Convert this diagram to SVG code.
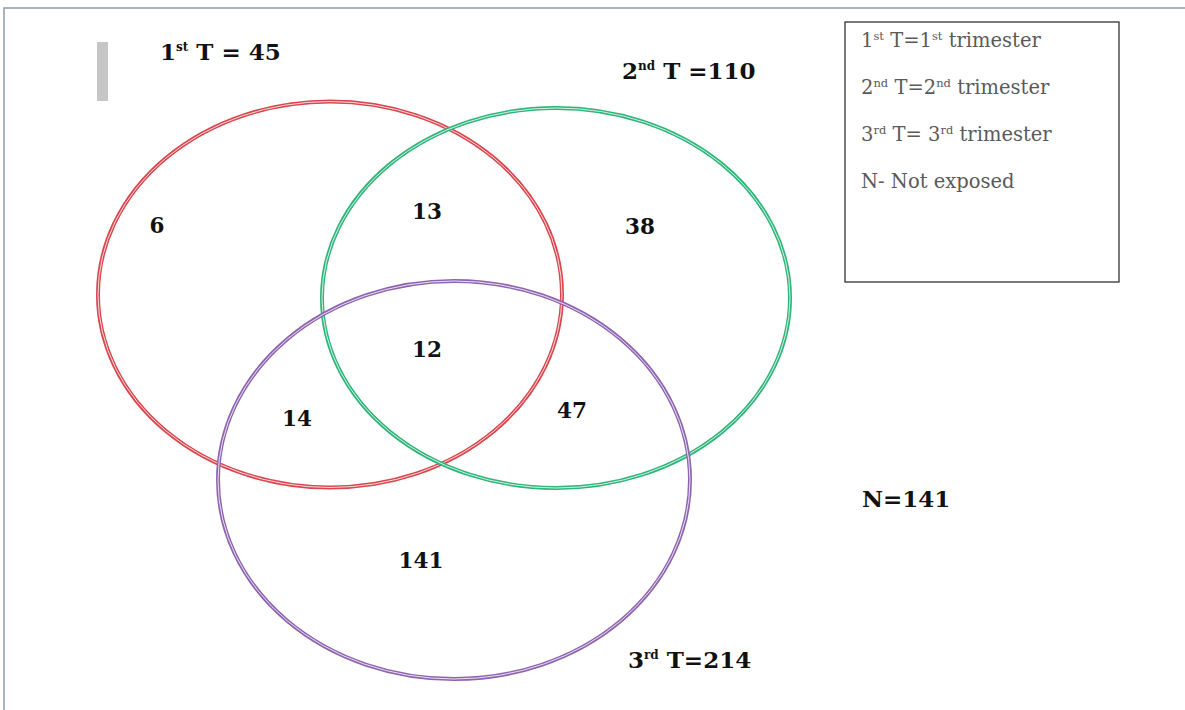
<svg xmlns="http://www.w3.org/2000/svg" width="1185" height="710" viewBox="0 0 1185 710">
<style>
.lbl{font-family:"DejaVu Serif","Liberation Serif",serif;font-weight:bold;font-size:23px;fill:#111}
.num{font-family:"DejaVu Serif","Liberation Serif",serif;font-weight:bold;font-size:21.5px;fill:#111;text-anchor:middle}
.leg{font-family:"DejaVu Serif","Liberation Serif",serif;font-size:19.5px;fill:#5a5a5a}
.sup{font-size:12px}
.lsup{font-size:11.5px}
.inner{fill:none;stroke:#fff;stroke-width:1;opacity:0.8}
</style>
<rect x="4" y="8" width="1190" height="710" fill="#fff" stroke="#8f9cab" stroke-width="1.5"/>
<rect x="97" y="42" width="11" height="59" fill="#c6c6c6"/>
<g id="connectors"></g>
<g id="set1">
<ellipse cx="330" cy="294.5" rx="232" ry="193" fill="none" stroke="#d9474f" stroke-width="4"/>
<ellipse class="inner" cx="330" cy="294.5" rx="232" ry="193"/>
</g>
<g id="set2">
<ellipse cx="556" cy="298" rx="234" ry="190" fill="none" stroke="#2fb57a" stroke-width="4"/>
<ellipse class="inner" cx="556" cy="298" rx="234" ry="190"/>
</g>
<g id="set3">
<ellipse cx="454" cy="480" rx="236" ry="199" fill="none" stroke="#8e64b0" stroke-width="4"/>
<ellipse class="inner" cx="454" cy="480" rx="236" ry="199"/>
</g>
<g id="labels">
<text class="lbl" x="160" y="60">1<tspan class="sup" dy="-9">st</tspan><tspan dy="9"> T = 45</tspan></text>
<text class="lbl" x="622" y="79">2<tspan class="sup" dy="-9">nd</tspan><tspan dy="9"> T =110</tspan></text>
<text class="lbl" x="628" y="668">3<tspan class="sup" dy="-9">rd</tspan><tspan dy="9"> T=214</tspan></text>
<text class="lbl" x="862" y="507">N=141</text>
</g>
<g id="regions">
<text class="num" x="157" y="233">6</text>
<text class="num" x="427" y="219">13</text>
<text class="num" x="640" y="234">38</text>
<text class="num" x="427" y="357">12</text>
<text class="num" x="297" y="426">14</text>
<text class="num" x="572" y="418">47</text>
<text class="num" x="421" y="568">141</text>
</g>
<g id="legend">
<rect x="845" y="22" width="274" height="260" fill="#fff" stroke="#222" stroke-width="1.2"/>
<text class="leg" x="861" y="47">1<tspan class="lsup" dy="-7">st</tspan><tspan dy="7"> T=1</tspan><tspan class="lsup" dy="-7">st</tspan><tspan dy="7"> trimester</tspan></text>
<text class="leg" x="861" y="94">2<tspan class="lsup" dy="-7">nd</tspan><tspan dy="7"> T=2</tspan><tspan class="lsup" dy="-7">nd</tspan><tspan dy="7"> trimester</tspan></text>
<text class="leg" x="861" y="141">3<tspan class="lsup" dy="-7">rd</tspan><tspan dy="7"> T= 3</tspan><tspan class="lsup" dy="-7">rd</tspan><tspan dy="7"> trimester</tspan></text>
<text class="leg" x="861" y="188">N- Not exposed</text>
</g>
</svg>
